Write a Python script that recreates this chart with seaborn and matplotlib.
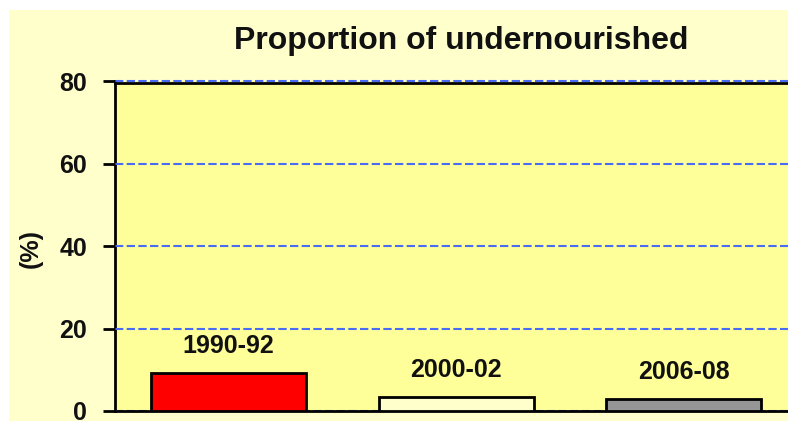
import matplotlib
matplotlib.use("Agg")
import matplotlib.pyplot as plt
from matplotlib.patches import Rectangle
import seaborn as sns
import pandas as pd

categories = ["1990-92", "2000-02", "2006-08"]
values = [9.3, 3.5, 2.9]
bar_colors = ["#FF0000", "#FFFFCC", "#969696"]
yticks = [0, 20, 40, 60, 80]
title = "Proportion of undernourished"
ylabel = "(%)"

sns.set_theme(style="white")
plt.rcParams["font.family"] = ["Liberation Sans", "DejaVu Sans"]

W, H = 788, 421
fig = plt.figure(figsize=(W / 100, H / 100), dpi=100, facecolor="white")
fig.patches.append(Rectangle((9 / W, 0), 1, 1 - 10 / H, transform=fig.transFigure,
                             facecolor="#FFFFCC", edgecolor="none", zorder=-5))

ax = fig.add_axes([115 / W, 10 / H, (797.5 - 115) / W, (411 - 81) / H])
ax.set_facecolor("#FFFF99")
ax.set_zorder(1)

df = pd.DataFrame({"period": categories, "value": values})
sns.barplot(data=df, x="period", y="value", hue="period", palette=bar_colors,
            width=0.68, edgecolor="black", linewidth=2, saturation=1,
            legend=False, ax=ax, zorder=3)

for i, (c, v) in enumerate(zip(categories, values)):
    ax.annotate(c, xy=(i, v), xytext=(0, 14.4), textcoords="offset points",
                ha="center", va="baseline", fontsize=18, fontweight="bold",
                color="#111111")

ax.set_xlim(-0.5, 2.5)
ax.set_ylim(0, 80)
ax.set_yticks(yticks)
ax.set_yticklabels([str(t) for t in yticks], fontsize=18, fontweight="bold", color="#111111")
ax.tick_params(axis="y", direction="out", length=9, width=2, color="black", pad=11, left=True)
ax.tick_params(axis="x", bottom=False, labelbottom=False)
ax.set_xlabel("")
ax.set_ylabel("")

ax.yaxis.grid(True, color="#4A6CF5", linestyle=(0, (4, 1.6)), linewidth=1.5)
ax.set_axisbelow(False)

for s in ["left", "bottom", "top"]:
    ax.spines[s].set_visible(True)
    ax.spines[s].set_color("black")
    ax.spines[s].set_linewidth(2)
ax.spines["right"].set_visible(False)
# black frame line sits just below the top gridline, as in the reference
ax.spines["top"].set_position(("outward", -1.2))
ax.spines["top"].set_zorder(2)
ax.spines["bottom"].set_zorder(2.6)

for t in ax.yaxis.get_major_ticks():
    t.gridline.set_clip_on(False)

fig.text(461 / W, 1 - 49 / H, title, ha="center", va="baseline",
         fontsize=23, fontweight="bold", color="#111111")
fig.text(31 / W, 1 - 249 / H, ylabel, ha="center", va="center", rotation=90,
         fontsize=18, fontweight="bold", color="#111111")

fig.savefig("out.png", dpi=100, facecolor=fig.get_facecolor())
